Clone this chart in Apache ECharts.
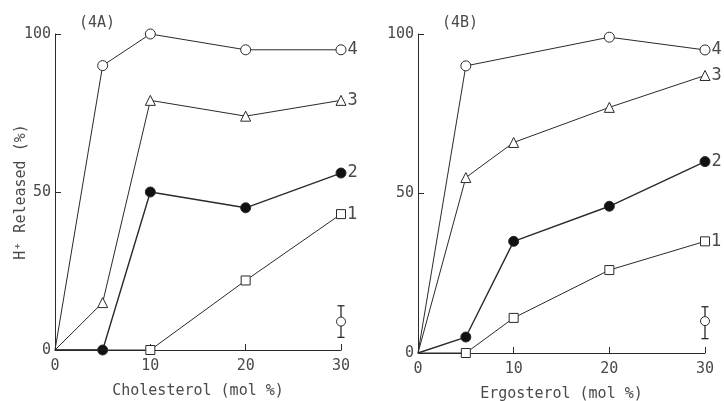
<!DOCTYPE html>
<html>
<head>
<meta charset="utf-8">
<script src="https://cdn.jsdelivr.net/npm/echarts@6/dist/echarts.min.js"></script>
<style>html,body{margin:0;padding:0;background:#fff;}#c{width:724px;height:401px;}</style>
</head>
<body>
<div id="c"></div>
<script>
// Panel 4A (Cholesterol)
var A_x4 = [0, 5, 10, 20, 30];
var A_y4 = [0, 90, 100, 95, 95];
var A_x3 = [0, 5, 10, 20, 30];
var A_y3 = [0, 15, 79, 74, 79];
var A_x2 = [0, 5, 10, 20, 30];
var A_y2 = [0, 0, 50, 45, 56];
var A_x1 = [0, 10, 20, 30];
var A_y1 = [0, 0, 22, 43];
var A_err = {x: 30, mean: 9, low: 4, high: 14};
// Panel 4B (Ergosterol)
var B_x4 = [0, 5, 20, 30];
var B_y4 = [0, 90, 99, 95];
var B_x3 = [0, 5, 10, 20, 30];
var B_y3 = [0, 55, 66, 77, 87];
var B_x2 = [0, 5, 10, 20, 30];
var B_y2 = [0, 5, 35, 46, 60];
var B_x1 = [0, 5, 10, 20, 30];
var B_y1 = [0, 0, 11, 26, 35];
var B_err = {x: 30, mean: 10, low: 4.5, high: 14.5};

var seriesNames = ['1', '2', '3', '4'];
var xTicks = [0, 10, 20, 30];
var yTicks = [0, 50, 100];
var panelTitles = ['(4A)', '(4B)'];
var xNames = ['Cholesterol (mol %)', 'Ergosterol (mol %)'];
var yName = 'H\u207A Released (%)';

var FONT = 'DejaVu Sans Mono';
var TXT = '#4a4a4a';
var LINE = '#2a2a2a';

function pts(xs, ys) {
  return xs.map(function (x, i) {
    var d = {value: [x, ys[i]]};
    if (i === 0) d.symbol = 'none';
    if (i === xs.length - 1) d.label = {show: true};
    return d;
  });
}

function lineSeries(idx, name, xs, ys, symbol, filled, size) {
  return {
    type: 'line', name: name, xAxisIndex: idx, yAxisIndex: idx,
    data: pts(xs, ys),
    symbol: symbol, symbolSize: size, showAllSymbol: true,
    lineStyle: {color: LINE, width: filled ? 1.4 : 1},
    itemStyle: {color: filled ? '#111' : '#fff', borderColor: LINE, borderWidth: 1},
    label: {show: false, position: 'right', distance: 1, formatter: name,
            fontFamily: FONT, fontSize: 17, color: TXT},
    emphasis: {disabled: true},
    animation: false, z: filled ? 3 : 4
  };
}

function errSeries(idx, e) {
  return {
    type: 'custom', xAxisIndex: idx, yAxisIndex: idx,
    data: [[e.x, e.mean, e.low, e.high]],
    renderItem: function (params, api) {
      var c = api.coord([api.value(0), api.value(1)]);
      var lo = api.coord([api.value(0), api.value(2)]);
      var hi = api.coord([api.value(0), api.value(3)]);
      var w = 3.5, r = 4.5;
      var st = {stroke: LINE, lineWidth: 1.3, fill: null};
      return {type: 'group', children: [
        {type: 'line', shape: {x1: hi[0], y1: hi[1], x2: c[0], y2: c[1] - r}, style: st},
        {type: 'line', shape: {x1: lo[0], y1: lo[1], x2: c[0], y2: c[1] + r}, style: st},
        {type: 'line', shape: {x1: hi[0] - w, y1: hi[1], x2: hi[0] + w, y2: hi[1]}, style: st},
        {type: 'line', shape: {x1: lo[0] - w, y1: lo[1], x2: lo[0] + w, y2: lo[1]}, style: st},
        {type: 'circle', shape: {cx: c[0], cy: c[1], r: r}, style: {stroke: LINE, lineWidth: 1, fill: '#fff'}}
      ]};
    },
    animation: false, silent: true
  };
}

function xAxis(idx) {
  return {
    type: 'value', gridIndex: idx, min: 0, max: 30, interval: 10,
    name: xNames[idx], nameLocation: 'middle', nameGap: 34,
    nameTextStyle: {fontFamily: FONT, fontSize: 15, color: TXT},
    axisLine: {lineStyle: {color: LINE, width: 1}},
    axisTick: {inside: true, length: 6, lineStyle: {color: LINE}},
    axisLabel: {fontFamily: FONT, fontSize: 15, color: TXT, margin: 9,
      formatter: function (v) { return xTicks.indexOf(v) >= 0 ? String(v) : ''; }},
    splitLine: {show: false}
  };
}
function yAxis(idx) {
  return {
    type: 'value', gridIndex: idx, min: 0, max: 100, interval: 50,
    name: idx === 0 ? yName : '', nameLocation: 'middle', nameGap: 26, nameRotate: 90,
    nameMoveOverlap: false,
    nameTextStyle: {fontFamily: FONT, fontSize: 15, color: TXT},
    axisLine: {show: true, lineStyle: {color: LINE, width: 1}},
    axisTick: {show: true, inside: true, length: 6, lineStyle: {color: LINE}},
    axisLabel: {fontFamily: FONT, fontSize: 15, color: TXT, margin: 4,
      formatter: function (v) { return yTicks.indexOf(v) >= 0 ? String(v) : ''; }},
    splitLine: {show: false}
  };
}

var option = {
  backgroundColor: '#fff',
  animation: false,
  title: [
    {text: panelTitles[0], left: 74, top: 11, textStyle: {fontFamily: FONT, fontSize: 15, fontWeight: 'normal', color: TXT}},
    {text: panelTitles[1], left: 437, top: 11, textStyle: {fontFamily: FONT, fontSize: 15, fontWeight: 'normal', color: TXT}}
  ],
  grid: [
    {left: 55, top: 34, width: 286, height: 316, containLabel: false, outerBoundsMode: 'none'},
    {left: 418, top: 34, width: 287, height: 319, containLabel: false, outerBoundsMode: 'none'}
  ],
  xAxis: [xAxis(0), xAxis(1)],
  yAxis: [yAxis(0), yAxis(1)],
  series: [
    lineSeries(0, seriesNames[3], A_x4, A_y4, 'circle', false, 10),
    lineSeries(0, seriesNames[2], A_x3, A_y3, 'triangle', false, 10),
    lineSeries(0, seriesNames[1], A_x2, A_y2, 'circle', true, 10),
    lineSeries(0, seriesNames[0], A_x1, A_y1, 'rect', false, 9),
    errSeries(0, A_err),
    lineSeries(1, seriesNames[3], B_x4, B_y4, 'circle', false, 10),
    lineSeries(1, seriesNames[2], B_x3, B_y3, 'triangle', false, 10),
    lineSeries(1, seriesNames[1], B_x2, B_y2, 'circle', true, 10),
    lineSeries(1, seriesNames[0], B_x1, B_y1, 'rect', false, 9),
    errSeries(1, B_err)
  ]
};

var chart = echarts.init(document.getElementById('c'), null, {renderer: 'canvas'});
chart.setOption(option);
</script>
</body>
</html>
